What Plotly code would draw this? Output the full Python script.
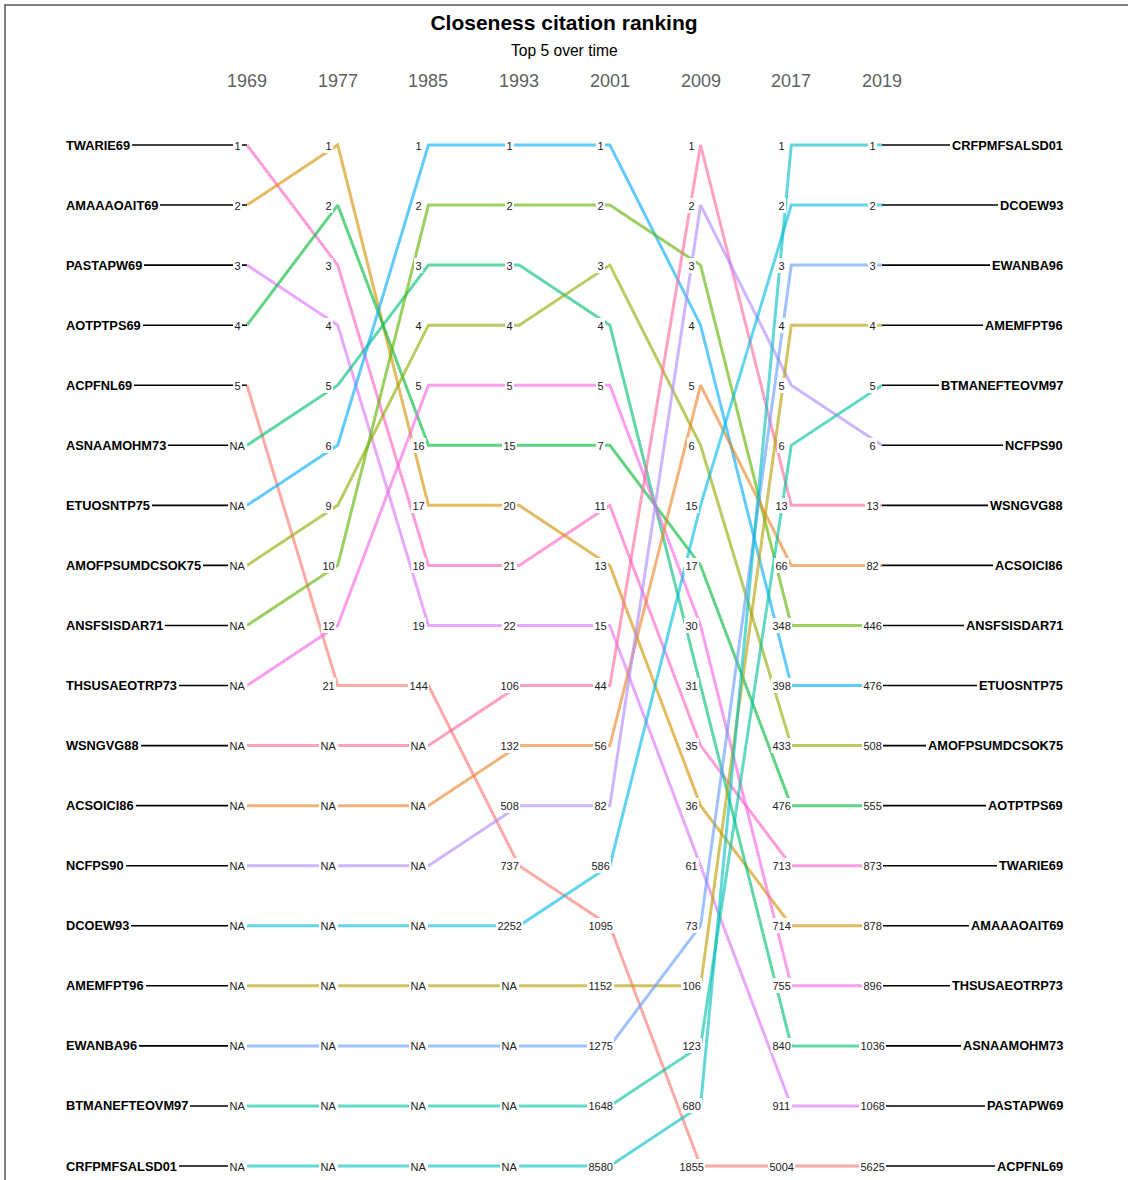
import math
import plotly.graph_objects as go

# ---------------- data ----------------
years = ["1969", "1977", "1985", "1993", "2001", "2009", "2017", "2019"]

series = ["TWARIE69", "AMAAAOAIT69", "PASTAPW69", "AOTPTPS69", "ACPFNL69",
          "ASNAAMOHM73", "ETUOSNTP75", "AMOFPSUMDCSOK75", "ANSFSISDAR71",
          "THSUSAEOTRP73", "WSNGVG88", "ACSOICI86", "NCFPS90", "DCOEW93",
          "AMEMFPT96", "EWANBA96", "BTMANEFTEOVM97", "CRFPMFSALSD01"]

N = None
rank_1969 = [1, 2, 3, 4, 5, N, N, N, N, N, N, N, N, N, N, N, N, N]
rank_1977 = [3, 1, 4, 2, 21, 5, 6, 9, 10, 12, N, N, N, N, N, N, N, N]
rank_1985 = [18, 17, 19, 16, 144, 3, 1, 4, 2, 5, N, N, N, N, N, N, N, N]
rank_1993 = [21, 20, 22, 15, 737, 3, 1, 4, 2, 5, 106, 132, 508, 2252, N, N, N, N]
rank_2001 = [11, 13, 15, 7, 1095, 4, 1, 3, 2, 5, 44, 56, 82, 586, 1152, 1275, 1648, 8580]
rank_2009 = [35, 36, 61, 17, 1855, 31, 4, 6, 3, 30, 1, 5, 2, 15, 106, 73, 123, 680]
rank_2017 = [713, 714, 911, 476, 5004, 840, 398, 433, 348, 755, 13, 66, 5, 2, 4, 3, 6, 1]
rank_2019 = [873, 878, 1068, 555, 5625, 1036, 476, 508, 446, 896, 13, 82, 6, 2, 4, 3, 5, 1]

ranks = [rank_1969, rank_1977, rank_1985, rank_1993,
         rank_2001, rank_2009, rank_2017, rank_2019]

title = "Closeness citation ranking"
subtitle = "Top 5 over time"

FONT = "Liberation Sans, Arial, sans-serif"

# ---------------- helpers ----------------
def hcl_rgb(h, c=100.0, l=65.0):
    hr = math.radians(h)
    u, v = c * math.cos(hr), c * math.sin(hr)
    Y = ((l + 16) / 116) ** 3
    un, vn = 0.1978398, 0.4683363
    up = u / (13 * l) + un
    vp = v / (13 * l) + vn
    X = Y * 9 * up / (4 * vp)
    Z = Y * (12 - 3 * up - 20 * vp) / (4 * vp)
    r = 3.2404542 * X - 1.5371385 * Y - 0.4985314 * Z
    g = -0.9692660 * X + 1.8760108 * Y + 0.0415560 * Z
    b = 0.0556434 * X - 0.2040259 * Y + 1.0572252 * Z

    def gam(t):
        t = 12.92 * t if t <= 0.0031308 else 1.055 * t ** (1 / 2.4) - 0.055
        return int(round(min(max(t, 0), 1) * 255))
    return gam(r), gam(g), gam(b)


n = len(series)
alpha_order = sorted(series)
colors = {}
for s in series:
    i = alpha_order.index(s)
    r, g, b = hcl_rgb(15 + 360 * i / n)
    colors[s] = f"rgba({r},{g},{b},0.62)"

# row position at each year = order of ranks (NA last, stable)
rows = []
for rk in ranks:
    order = sorted(range(n), key=lambda k: (rk[k] is None, rk[k] if rk[k] is not None else 0, k))
    pos = [0] * n
    for p, k in enumerate(order):
        pos[k] = p + 1
    rows.append(pos)

xs = list(range(len(years)))
W, H = 1128, 1180
x0_px, dx_px = 247.0, (882.0 - 247.0) / 7
y0_px, dy_px = 145.0, (1166.0 - 145.0) / 17
x_range = [-x0_px / dx_px, (W - x0_px) / dx_px]
y_range = [1 + (H - y0_px) / dy_px, 1 - y0_px / dy_px]
left_x, right_x = -2, len(years) + 1

fig = go.Figure()

# black connector lines to names
bx, by = [], []
for r in range(1, n + 1):
    bx += [left_x, 0, None, len(years) - 1, right_x, None]
    by += [r, r, None, r, r, None]
fig.add_trace(go.Scatter(x=bx, y=by, mode="lines",
                         line=dict(color="black", width=1.6),
                         hoverinfo="skip", showlegend=False))

for k, s in enumerate(series):
    fig.add_trace(go.Scatter(
        x=xs, y=[rows[j][k] for j in range(len(years))],
        mode="lines", line=dict(color=colors[s], width=3),
        name=s, showlegend=False, hoverinfo="name"))

ann = []
for j in range(len(years)):
    for k in range(n):
        v = ranks[j][k]
        ann.append(dict(x=j, y=rows[j][k], xref="x", yref="y",
                        text="NA" if v is None else str(v),
                        showarrow=False, xanchor="center", yanchor="middle",
                        xshift=-9.5, bgcolor="white", borderpad=1.5, borderwidth=0,
                        font=dict(size=11, color="#222222", family=FONT)))
    ann.append(dict(x=j, y=1 - 81 / H, xref="x", yref="paper", text=years[j],
                    showarrow=False, xanchor="center", yanchor="middle",
                    font=dict(size=18, color="#5f5f5f", family=FONT)))

for k, s in enumerate(series):
    ann.append(dict(x=left_x, y=rows[0][k], xref="x", yref="y", text=f"<b>{s}</b>",
                    showarrow=False, xanchor="left", yanchor="middle", xshift=-2,
                    bgcolor="white", borderpad=2, borderwidth=0,
                    font=dict(size=12.8, color="black", family=FONT)))
    ann.append(dict(x=right_x, y=rows[-1][k], xref="x", yref="y", text=f"<b>{s}</b>",
                    showarrow=False, xanchor="right", yanchor="middle", xshift=2,
                    bgcolor="white", borderpad=2, borderwidth=0,
                    font=dict(size=12.8, color="black", family=FONT)))

ann.append(dict(x=0.5, y=1 - 50 / H, xref="paper", yref="paper", text=subtitle,
                showarrow=False, xanchor="center", yanchor="middle",
                font=dict(size=15.6, color="black", family=FONT)))

fig.update_layout(
    width=W, height=H,
    margin=dict(l=0, r=0, t=0, b=0),
    paper_bgcolor="white", plot_bgcolor="white",
    title=dict(text=f"<b>{title}</b>", x=0.5, y=1 - 23 / H,
               xanchor="center", yanchor="middle",
               font=dict(size=21, color="black", family=FONT)),
    xaxis=dict(range=x_range, visible=False, fixedrange=True),
    yaxis=dict(range=y_range, visible=False, fixedrange=True),
    annotations=ann,
    shapes=[dict(type="rect", xref="paper", yref="paper",
                 x0=5 / W, x1=1.05, y0=-0.05, y1=1 - 5 / H,
                 line=dict(color="#555555", width=1.5), layer="below")],
    showlegend=False,
)

fig.write_html("out.html", config={"displayModeBar": False},
               post_script="document.body.style.margin='0';document.body.style.padding='0';")
